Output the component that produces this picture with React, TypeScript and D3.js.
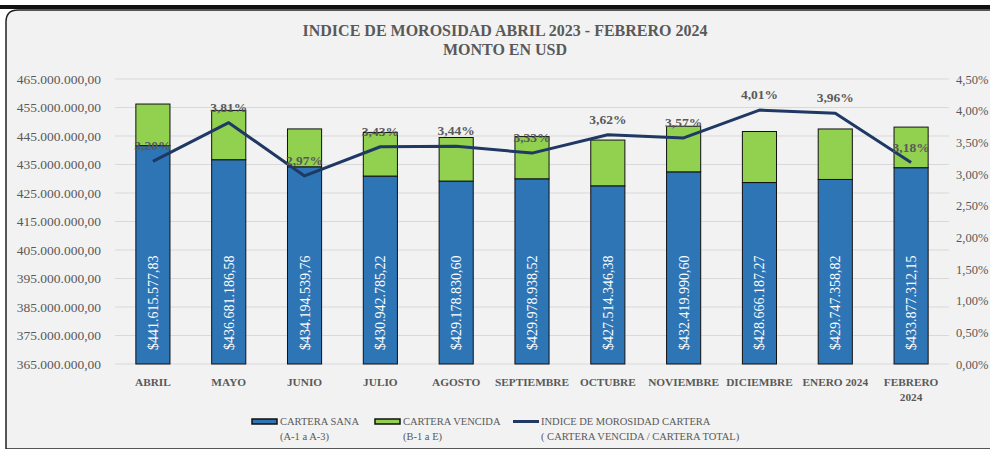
import * as d3 from "d3";
import { useEffect, useRef } from "react";

const months = [
  "ABRIL",
  "MAYO",
  "JUNIO",
  "JULIO",
  "AGOSTO",
  "SEPTIEMBRE",
  "OCTUBRE",
  "NOVIEMBRE",
  "DICIEMBRE",
  "ENERO 2024",
  "FEBRERO 2024",
];

// cartera sana (A-1 a A-3)
const sana = [
  441615577.83, 436681186.58, 434194539.76, 430942785.22, 429178830.6,
  429978938.52, 427514346.38, 432419990.6, 428666187.27, 429747358.82,
  433877312.15,
];

// cartera vencida (B-1 a E)
const vencida = [
  14600000, 17300000, 13290000, 15310000, 15290000, 14810000, 16060000,
  16010000, 17910000, 17720000, 14250000,
];

// indice de morosidad (%)
const indice = [3.2, 3.81, 2.97, 3.43, 3.44, 3.33, 3.62, 3.57, 4.01, 3.96, 3.18];

const leftTicks = [
  365e6, 375e6, 385e6, 395e6, 405e6, 415e6, 425e6, 435e6, 445e6, 455e6, 465e6,
];
const rightTicks = [0, 0.5, 1, 1.5, 2, 2.5, 3, 3.5, 4, 4.5];

const W = 990;
const H = 449;
const FONT = "'Liberation Serif', serif";
const GRAY = "#595959";

const locale = d3.formatLocale({
  decimal: ",",
  thousands: ".",
  grouping: [3],
  currency: ["$", ""],
});

export default function App() {
  const ref = useRef<SVGSVGElement>(null);

  useEffect(() => {
    const svg = d3.select(ref.current);
    svg.selectAll("*").remove();

    // background + frame
    svg.append("rect").attr("width", W).attr("height", H).attr("fill", "#fff");
    svg
      .append("path")
      .attr("d", `M6,${H} L6,22 Q6,10 18,10 L${W + 2},10 L${W + 2},${H} Z`)
      .attr("fill", "#f2f2f2")
      .attr("stroke", "#222")
      .attr("stroke-width", 1.5);
    svg
      .append("rect")
      .attr("x", 0)
      .attr("y", 5)
      .attr("width", W)
      .attr("height", 4)
      .attr("fill", "#111");

    const left = 115;
    const right = 949;
    const top = 79;
    const bottom = 364;

    const x = d3
      .scaleBand()
      .domain(months)
      .range([left, right])
      .paddingInner(0.55)
      .paddingOuter(0.275);
    const y = d3.scaleLinear().domain([365e6, 465e6]).range([bottom, top]);
    const y2 = d3.scaleLinear().domain([0, 4.5]).range([bottom, top]);

    // gridlines
    svg
      .append("g")
      .selectAll("line")
      .data(leftTicks)
      .enter()
      .append("line")
      .attr("x1", left)
      .attr("x2", right)
      .attr("y1", (d) => y(d))
      .attr("y2", (d) => y(d))
      .attr("stroke", "#d9d9d9")
      .attr("stroke-width", 1);

    // left axis
    const fmtLeft = locale.format(",.2f");
    const ga = svg
      .append("g")
      .attr("transform", `translate(${left - 2},0)`)
      .call(
        d3
          .axisLeft(y)
          .tickValues(leftTicks)
          .tickSize(0)
          .tickPadding(12)
          .tickFormat((d) => fmtLeft(d as number))
      );
    ga.select(".domain").remove();
    ga.selectAll("text")
      .attr("font-family", FONT)
      .attr("font-size", 13.5)
      .attr("fill", GRAY);

    // right axis
    const fmtPct = locale.format(",.2f");
    const gr = svg
      .append("g")
      .attr("transform", `translate(${right},0)`)
      .call(
        d3
          .axisRight(y2)
          .tickValues(rightTicks)
          .tickSize(0)
          .tickPadding(7)
          .tickFormat((d) => fmtPct(d as number) + "%")
      );
    gr.select(".domain").remove();
    gr.selectAll("text")
      .attr("font-family", FONT)
      .attr("font-size", 12.5)
      .attr("fill", GRAY);

    const rows = months.map((m, i) => ({
      m,
      sana: sana[i],
      vencida: vencida[i],
      indice: indice[i],
    }));

    // bars: sana
    svg
      .append("g")
      .selectAll("rect")
      .data(rows)
      .enter()
      .append("rect")
      .attr("x", (d) => x(d.m)!)
      .attr("y", (d) => y(d.sana))
      .attr("width", x.bandwidth())
      .attr("height", (d) => bottom - y(d.sana))
      .attr("fill", "#2e75b6")
      .attr("stroke", "#111")
      .attr("stroke-width", 1);

    // bars: vencida
    svg
      .append("g")
      .selectAll("rect")
      .data(rows)
      .enter()
      .append("rect")
      .attr("x", (d) => x(d.m)!)
      .attr("y", (d) => y(d.sana + d.vencida))
      .attr("width", x.bandwidth())
      .attr("height", (d) => y(d.sana) - y(d.sana + d.vencida))
      .attr("fill", "#92d050")
      .attr("stroke", "#111")
      .attr("stroke-width", 1);

    // sana value labels (rotated, inside base)
    const fmtMoney = locale.format("$,.2f");
    svg
      .append("g")
      .selectAll("text")
      .data(rows)
      .enter()
      .append("text")
      .attr(
        "transform",
        (d) => `translate(${x(d.m)! + x.bandwidth() / 2 + 5},${bottom - 14}) rotate(-90)`
      )
      .attr("text-anchor", "start")
      .attr("font-family", FONT)
      .attr("font-size", 14)
      .attr("fill", "#fff")
      .text((d) => fmtMoney(d.sana));

    // x labels
    const xl = svg
      .append("g")
      .selectAll("text")
      .data(rows)
      .enter()
      .append("text")
      .attr("x", (d) => x(d.m)! + x.bandwidth() / 2)
      .attr("y", 386)
      .attr("text-anchor", "middle")
      .attr("font-family", FONT)
      .attr("font-weight", "bold")
      .attr("font-size", 11.3)
      .attr("fill", GRAY);
    xl.each(function (d) {
      const t = d3.select(this);
      if (d.m === "FEBRERO 2024") {
        t.append("tspan").attr("x", x(d.m)! + x.bandwidth() / 2).text("FEBRERO");
        t.append("tspan")
          .attr("x", x(d.m)! + x.bandwidth() / 2)
          .attr("dy", 15)
          .text("2024");
      } else {
        t.text(d.m);
      }
    });

    // indice line
    const line = d3
      .line<(typeof rows)[number]>()
      .x((d) => x(d.m)! + x.bandwidth() / 2)
      .y((d) => y2(d.indice));
    svg
      .append("path")
      .datum(rows)
      .attr("d", line)
      .attr("fill", "none")
      .attr("stroke", "#203864")
      .attr("stroke-width", 3)
      .attr("stroke-linejoin", "round");

    svg
      .append("g")
      .selectAll("text")
      .data(rows)
      .enter()
      .append("text")
      .attr("x", (d) => x(d.m)! + x.bandwidth() / 2)
      .attr("y", (d) => y2(d.indice) - 11)
      .attr("text-anchor", "middle")
      .attr("font-family", FONT)
      .attr("font-weight", "bold")
      .attr("font-size", 13.5)
      .attr("fill", GRAY)
      .text((d) => fmtPct(d.indice) + "%");

    // title
    const title = svg
      .append("text")
      .attr("x", 505)
      .attr("y", 36)
      .attr("text-anchor", "middle")
      .attr("font-family", FONT)
      .attr("font-weight", "bold")
      .attr("font-size", 16)
      .attr("fill", GRAY);
    title.append("tspan").attr("x", 505).text("INDICE DE MOROSIDAD ABRIL 2023 - FEBRERO 2024");
    title.append("tspan").attr("x", 505).attr("dy", 19).text("MONTO EN USD");

    // legend
    const legend = [
      { kind: "bar", color: "#2e75b6", x: 252, l1: "CARTERA SANA", l2: "(A-1 a A-3)" },
      { kind: "bar", color: "#92d050", x: 375, l1: "CARTERA VENCIDA", l2: "(B-1 a E)" },
      {
        kind: "line",
        color: "#203864",
        x: 513,
        l1: "INDICE DE MOROSIDAD CARTERA",
        l2: "( CARTERA VENCIDA / CARTERA  TOTAL)",
      },
    ];
    const lg = svg
      .append("g")
      .selectAll("g")
      .data(legend)
      .enter()
      .append("g")
      .attr("transform", (d) => `translate(${d.x},0)`);
    lg.filter((d) => d.kind === "bar")
      .append("rect")
      .attr("x", 0)
      .attr("y", 419)
      .attr("width", 25)
      .attr("height", 5)
      .attr("fill", (d) => d.color)
      .attr("stroke", "#111")
      .attr("stroke-width", 1.5);
    lg.filter((d) => d.kind === "line")
      .append("line")
      .attr("x1", 0)
      .attr("x2", 26)
      .attr("y1", 421.5)
      .attr("y2", 421.5)
      .attr("stroke", (d) => d.color)
      .attr("stroke-width", 3);
    const lt = lg
      .append("text")
      .attr("font-family", FONT)
      .attr("font-size", 10.5)
      .attr("fill", GRAY);
    lt.append("tspan").attr("x", 28).attr("y", 425).text((d) => d.l1);
    lt.append("tspan").attr("x", 28).attr("y", 440).text((d) => d.l2);
  }, []);

  return (
    <svg
      ref={ref}
      width={W}
      height={H}
      style={{ position: "absolute", left: 0, top: 0, display: "block" }}
    />
  );
}
